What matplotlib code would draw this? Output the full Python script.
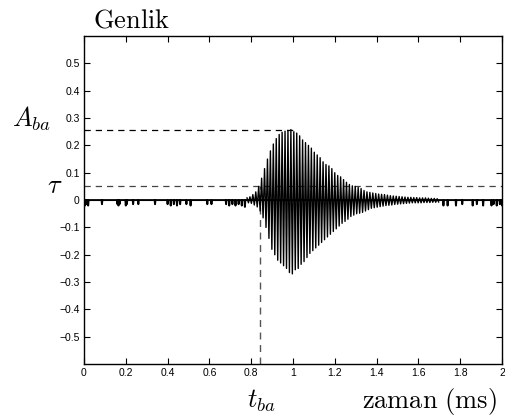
import numpy as np
import matplotlib
matplotlib.use("Agg")
import matplotlib.pyplot as plt

plt.rcParams['mathtext.fontset'] = 'cm'
plt.rcParams['font.family'] = ['Liberation Sans', 'DejaVu Sans']

# burst: one positive and one negative peak per cycle
t_start = 0.78      # ms, first cycle
period = 0.014      # ms
peak_pos = [0.008, 0.012, 0.02, 0.03, 0.05, 0.08, 0.115, 0.15, 0.18, 0.205,
            0.225, 0.24, 0.248, 0.252, 0.255, 0.258, 0.25, 0.245, 0.235, 0.22,
            0.21, 0.20, 0.19, 0.175, 0.165, 0.155, 0.14, 0.13, 0.125, 0.115,
            0.10, 0.09, 0.085, 0.075, 0.065, 0.057, 0.052, 0.05, 0.046, 0.042,
            0.035, 0.03, 0.028, 0.026, 0.024, 0.022, 0.021, 0.02, 0.018, 0.016,
            0.015, 0.014, 0.013, 0.012, 0.011, 0.010, 0.010, 0.009, 0.009, 0.008,
            0.008, 0.008, 0.007, 0.006, 0.006, 0.005]
peak_neg = [-0.01, -0.012, -0.018, -0.025, -0.04, -0.065, -0.10, -0.14, -0.18, -0.20,
            -0.22, -0.23, -0.24, -0.25, -0.265, -0.27, -0.255, -0.25, -0.235, -0.225,
            -0.21, -0.195, -0.185, -0.175, -0.165, -0.155, -0.145, -0.135, -0.125, -0.115,
            -0.105, -0.095, -0.085, -0.078, -0.07, -0.06, -0.055, -0.05, -0.048, -0.045,
            -0.04, -0.035, -0.03, -0.028, -0.026, -0.024, -0.022, -0.02, -0.019, -0.018,
            -0.016, -0.015, -0.014, -0.013, -0.012, -0.011, -0.010, -0.010, -0.010, -0.010,
            -0.009, -0.009, -0.009, -0.008, -0.008, -0.007]

# background noise spikes (ms, amplitude)
spike_t = [0.005, 0.012, 0.02, 0.086, 0.16, 0.165, 0.17, 0.20, 0.205, 0.235, 0.26,
           0.34, 0.40, 0.415, 0.43, 0.445, 0.46, 0.49, 0.51, 0.59, 0.61,
           0.68, 0.695, 0.71, 0.725, 0.74, 0.755, 0.77,
           1.72, 1.74, 1.78, 1.81, 1.86, 1.88, 1.91, 1.95, 1.96, 1.975, 1.99, 2.0]
spike_a = [-0.02, -0.015, -0.02, -0.015, -0.015, -0.02, -0.015, -0.02, -0.015, -0.015, -0.015,
           -0.015, -0.015, -0.02, -0.015, -0.02, -0.015, -0.015, -0.02, -0.015, -0.015,
           -0.015, -0.02, -0.015, -0.02, -0.015, -0.02, -0.025,
           -0.02, -0.02, -0.02, -0.015, -0.02, -0.015, -0.02, -0.02, -0.015, -0.02, -0.015, -0.02]

t_ba = 0.84
A_ba = 0.258
tau = 0.05

xticks = [0, 0.2, 0.4, 0.6, 0.8, 1, 1.2, 1.4, 1.6, 1.8, 2]
yticks = [-0.5, -0.4, -0.3, -0.2, -0.1, 0, 0.1, 0.2, 0.3, 0.4, 0.5]

fig = plt.figure(figsize=(5.06, 4.19), dpi=100)
ax = fig.add_axes([0.166, 0.131, 0.826, 0.783])

# burst line
bt, bv = [], []
for k, (p, n) in enumerate(zip(peak_pos, peak_neg)):
    bt += [t_start + k * period, t_start + (k + 0.5) * period]
    bv += [p, n]
ax.plot(bt, bv, color='black', lw=1.0, zorder=3)

# baseline with spikes
nt, nv = [0.0], [0.0]
for s, a in zip(spike_t, spike_a):
    nt += [s - 0.002, s, s + 0.002]
    nv += [0.0, a, 0.0]
nt.append(2.0)
nv.append(0.0)
order = np.argsort(nt, kind='stable')
ax.plot(np.array(nt)[order], np.array(nv)[order], color='black', lw=1.4, zorder=3)

# guide lines
ax.plot([0, 1.0], [A_ba, A_ba], color='black', lw=0.9, dashes=(5, 4), zorder=2)
ax.axhline(tau, color='#444444', lw=0.9, dashes=(5, 4), zorder=2)
ax.plot([t_ba, t_ba], [-0.6, tau], color='#555555', lw=1.0, dashes=(5, 4), zorder=2)

ax.set_xlim(0, 2)
ax.set_ylim(-0.6, 0.6)
ax.set_xticks(xticks)
ax.set_xticklabels(['0', '0.2', '0.4', '0.6', '0.8', '1', '1.2', '1.4', '1.6', '1.8', '2'])
ax.set_yticks(yticks)
ax.set_yticklabels(['\u22120.5', '\u22120.4', '\u22120.3', '\u22120.2', '\u22120.1', '0',
                    '0.1', '0.2', '0.3', '0.4', '0.5'])
ax.tick_params(direction='in', length=4, width=0.8, labelsize=7.5, top=True, right=True,
               pad=3)
for sp in ax.spines.values():
    sp.set_linewidth(1.0)

fig.text(93 / 506, 1 - 27 / 419, r'$\mathrm{Genlik}$', fontsize=19, ha='left', va='baseline')
fig.text(12 / 506, 1 - 127 / 419, r'$A_{ba}$', fontsize=19, ha='left', va='baseline')
fig.text(47 / 506, 1 - 193 / 419, r'$\tau$', fontsize=19, ha='left', va='baseline')
fig.text(247 / 506, 1 - 408 / 419, r'$t_{ba}$', fontsize=19, ha='left', va='baseline')
fig.text(362 / 506, 1 - 408 / 419, r'$\mathrm{zaman\ (ms)}$', fontsize=19, ha='left',
         va='baseline')

fig.savefig('out.png', dpi=100)
